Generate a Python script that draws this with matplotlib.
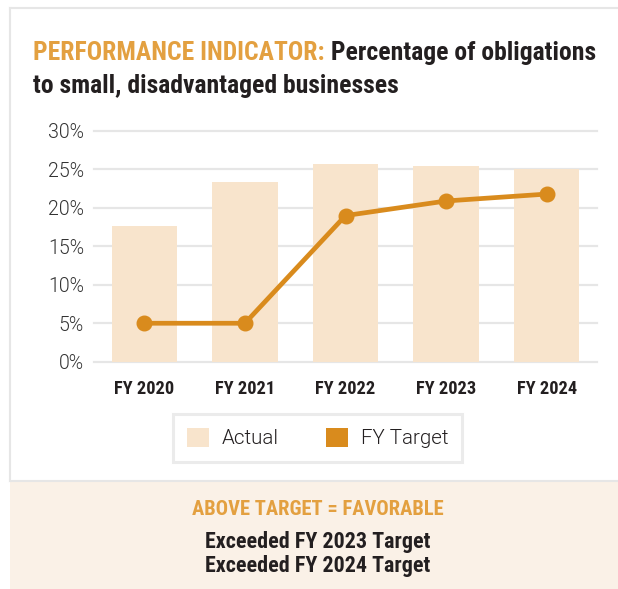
import matplotlib
matplotlib.use('Agg')
import matplotlib.pyplot as plt
from matplotlib.patches import Rectangle, Patch
from matplotlib import font_manager

# data
years = ['FY 2020', 'FY 2021', 'FY 2022', 'FY 2023', 'FY 2024']
actual = [17.6, 23.4, 25.7, 25.4, 25.0]
target = [5, 5, 19, 20.9, 21.8]
yticks = [0, 5, 10, 15, 20, 25, 30]
series_names = ['Actual', 'FY Target']

W, H = 618, 589
bar_col = '#f8e4cc'
line_col = '#d98b1d'
orange = '#e3a040'
dark = '#231f20'
grid_col = '#e6e6e6'
panel_col = '#faf1e7'

names = {f.name for f in font_manager.fontManager.ttflist}
bold_font = 'Roboto Condensed' if 'Roboto Condensed' in names else 'DejaVu Sans'
light_font = 'Roboto' if 'Roboto' in names else bold_font

fig = plt.figure(figsize=(W / 100, H / 100), dpi=100)
renderer = fig.canvas.get_renderer()

# background layer, data coords = pixels (y down)
bg = fig.add_axes([0, 0, 1, 1], zorder=0)
bg.set_xlim(0, W)
bg.set_ylim(H, 0)
bg.axis('off')


def size_for(s, width, family, weight, start=20):
    # font size that makes string s about `width` pixels wide
    t = bg.text(0, 0, s, fontsize=start, family=family, fontweight=weight)
    w = t.get_window_extent(renderer).width
    t.remove()
    return start * width / w


# frame and bottom panel
bg.add_patch(Rectangle((10, 481), W - 10, H - 481, facecolor=panel_col, lw=0))
bg.plot([10, 10], [7.5, 481], color=grid_col, lw=1.5)
bg.plot([10, W], [7.5, 7.5], color=grid_col, lw=1.5)
bg.plot([10, W], [481, 481], color=grid_col, lw=1.5)

# title
tsz = size_for('PERFORMANCE INDICATOR: Percentage of obligations', 561, bold_font, 'bold')
t1 = bg.text(33.3, 60, 'PERFORMANCE INDICATOR:', color=orange, fontsize=tsz,
             family=bold_font, fontweight='bold', va='baseline')
bb = t1.get_window_extent(renderer)
bg.text(bb.x1, 60, ' Percentage of obligations', color=dark, fontsize=tsz,
        family=bold_font, fontweight='bold', va='baseline')
bg.text(33.3, 92.7, 'to small, disadvantaged businesses', color=dark, fontsize=tsz,
        family=bold_font, fontweight='bold', va='baseline')

# main chart
ax = fig.add_axes([94 / W, 1 - 361.7 / H, (597 - 94) / W, (361.7 - 131) / H], zorder=1)
ax.set_facecolor('none')
x = list(range(len(years)))
for yv in yticks:
    ax.axhline(yv, color=grid_col, lw=1.6, zorder=0, clip_on=False)
ax.bar(x, actual, width=0.65, color=bar_col, zorder=1, label=series_names[0])
ax.plot(x, target, color=line_col, lw=3.4, marker='o', ms=10.5, zorder=3,
        clip_on=False, label=series_names[1])
ax.set_xlim(-0.5, 4.5)
ax.set_ylim(0, 30)

ysz = size_for('30%', 36, light_font, 300)
xsz = size_for('FY 2020', 60, bold_font, 'bold')
ax.set_yticks(yticks)
ax.set_yticklabels([f'{v}%' for v in yticks], family=light_font, fontweight=300,
                   fontsize=ysz, color='#333333')
ax.set_xticks(x)
ax.set_xticklabels(years, family=bold_font, fontweight='bold', fontsize=xsz, color=dark)
for s in ax.spines.values():
    s.set_visible(False)
ax.tick_params(length=0)
ax.tick_params(axis='y', pad=7.2)
ax.tick_params(axis='x', pad=13)

# legend
lsz = size_for('Actual', 57, light_font, 300)
px = lsz * 100 / 72
handles = [Patch(facecolor=bar_col, edgecolor='none'), Patch(facecolor=line_col, edgecolor='none')]
leg = fig.legend(handles, series_names, loc='center', bbox_to_anchor=(317.5 / W, 1 - 438 / H),
                 ncol=2, frameon=True, fancybox=False, labelcolor=dark,
                 prop=dict(family=light_font, weight=300, size=lsz),
                 handlelength=22 / px, handleheight=21 / px, handletextpad=13 / px,
                 columnspacing=47 / px, borderpad=0.66)
leg.get_frame().set_edgecolor(grid_col)
leg.get_frame().set_linewidth(2.2)

# bottom panel text
s1 = size_for('ABOVE TARGET = FAVORABLE', 252, bold_font, 'bold')
bg.text(318, 515, 'ABOVE TARGET = FAVORABLE', color=orange, fontsize=s1,
        family=bold_font, fontweight='bold', ha='center', va='baseline')
s2 = size_for('Exceeded FY 2023 Target', 224, bold_font, 'bold')
bg.text(318, 548.3, 'Exceeded FY 2023 Target', color=dark, fontsize=s2,
        family=bold_font, fontweight='bold', ha='center', va='baseline')
bg.text(318, 571.7, 'Exceeded FY 2024 Target', color=dark, fontsize=s2,
        family=bold_font, fontweight='bold', ha='center', va='baseline')

fig.savefig('out.png', dpi=100, facecolor='white')
